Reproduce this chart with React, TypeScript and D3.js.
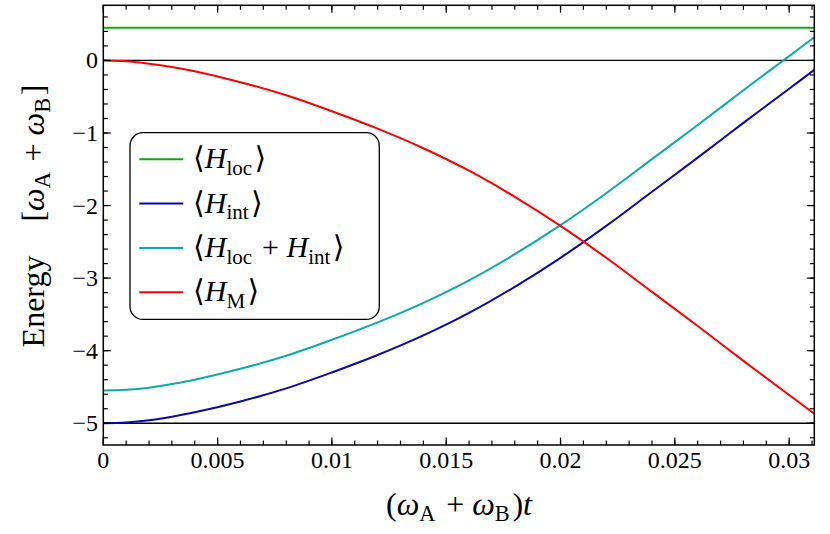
import * as d3 from "d3";

// sampled (omega_A + omega_B) t values
const T = [0, 0.001, 0.002, 0.003, 0.004, 0.006, 0.008, 0.01, 0.012, 0.014, 0.016, 0.018, 0.02, 0.022, 0.024, 0.026, 0.028, 0.03, 0.0311];

// energies
const H_LOC = [0.45, 0.45, 0.45, 0.45, 0.45, 0.45, 0.45, 0.45, 0.45, 0.45, 0.45, 0.45, 0.45, 0.45, 0.45, 0.45, 0.45, 0.45, 0.45];
const H_INT = [-5.0, -4.99, -4.96, -4.91, -4.85, -4.7, -4.52, -4.3, -4.06, -3.79, -3.48, -3.12, -2.72, -2.28, -1.81, -1.34, -0.86, -0.39, -0.13];
const H_SUM = [-4.55, -4.54, -4.51, -4.46, -4.4, -4.25, -4.07, -3.85, -3.61, -3.34, -3.03, -2.67, -2.27, -1.83, -1.36, -0.89, -0.41, 0.06, 0.32];
const H_M = [0, -0.011, -0.044, -0.09, -0.15, -0.3, -0.48, -0.7, -0.94, -1.21, -1.52, -1.88, -2.28, -2.72, -3.19, -3.66, -4.14, -4.61, -4.87];

const REF_LEVELS = [0, -5];

const X_TICKS = [0, 0.005, 0.01, 0.015, 0.02, 0.025, 0.03];
const X_TICK_LABELS = ["0", "0.005", "0.01", "0.015", "0.02", "0.025", "0.03"];
const Y_TICKS = [0, -1, -2, -3, -4, -5];
const Y_TICK_LABELS = ["0", "\u22121", "\u22122", "\u22123", "\u22124", "\u22125"];

const SERIES = [
  { key: "loc", values: H_LOC, color: "#0aae0a", sub: ["loc"] },
  { key: "int", values: H_INT, color: "#0a0aa0", sub: ["int"] },
  { key: "sum", values: H_SUM, color: "#0aaaaa", sub: ["loc", "int"] },
  { key: "M", values: H_M, color: "#ff0000", sub: ["M"] },
];

const W = 830;
const H = 534;
const M = { left: 103.3, right: 814.3, top: 5.3, bottom: 445 };
const FONT = "'Liberation Serif', 'DejaVu Serif', serif";

const x = d3.scaleLinear().domain([0, 0.0311]).range([M.left, M.right]);
const y = d3.scaleLinear().domain([-5.3, 0.76]).range([M.bottom, M.top]);

const xMinor = d3.range(0, 32).map((i) => i * 0.001).filter((v) => v <= 0.0311);
const yMinor = d3.range(-26, 4).map((i) => i * 0.2);

// H with roman subscript, in italic math style
function HTerm({ sub, size }: { sub: string; size: number }) {
  return (
    <>
      <tspan fontStyle="italic">H</tspan>
      <tspan fontSize={size * 0.7} dy={size * 0.22}>
        {sub}
      </tspan>
      <tspan dy={-size * 0.22}>{"\u200a"}</tspan>
    </>
  );
}

// omega with roman subscript
function Omega({ sub, size }: { sub: string; size: number }) {
  return (
    <>
      <tspan fontStyle="italic">ω</tspan>
      <tspan fontSize={size * 0.7} dy={size * 0.2}>
        {sub}
      </tspan>
      <tspan dy={-size * 0.2}>{"\u200a"}</tspan>
    </>
  );
}

export default function App() {
  const line = d3
    .line<number>()
    .x((_, i) => x(T[i]))
    .y((d) => y(d))
    .curve(d3.curveCatmullRom.alpha(0.5));

  const legendX = 130;
  const legendY = 132.7;
  const rowH = 44.3;
  const legSize = 30;
  const axSize = 32;

  return (
    <div style={{ position: "absolute", left: 0, top: 0 }}>
      <svg width={W} height={H} style={{ display: "block", background: "#fff" }} fontFamily={FONT}>
        <defs>
          <clipPath id="plot">
            <rect x={M.left} y={M.top} width={M.right - M.left} height={M.bottom - M.top} />
          </clipPath>
        </defs>

        {/* reference levels */}
        {REF_LEVELS.map((v) => (
          <line key={v} x1={M.left} x2={M.right} y1={y(v)} y2={y(v)} stroke="#000" strokeWidth={1.3} />
        ))}

        <g clipPath="url(#plot)">
          {SERIES.map((s) => (
            <path key={s.key} d={line(s.values) ?? ""} fill="none" stroke={s.color} strokeWidth={2} />
          ))}
        </g>

        {/* ticks, inward on all four sides */}
        <g stroke="#000" strokeWidth={1.2}>
          {xMinor.map((v, i) => (
            <g key={"xm" + i}>
              <line x1={x(v)} x2={x(v)} y1={M.bottom} y2={M.bottom - 4.5} />
              <line x1={x(v)} x2={x(v)} y1={M.top} y2={M.top + 4.5} />
            </g>
          ))}
          {X_TICKS.map((v, i) => (
            <g key={"xM" + i}>
              <line x1={x(v)} x2={x(v)} y1={M.bottom} y2={M.bottom - 7.5} />
              <line x1={x(v)} x2={x(v)} y1={M.top} y2={M.top + 7.5} />
            </g>
          ))}
          {yMinor.map((v, i) => (
            <g key={"ym" + i}>
              <line x1={M.left} x2={M.left + 4.5} y1={y(v)} y2={y(v)} />
              <line x1={M.right} x2={M.right - 4.5} y1={y(v)} y2={y(v)} />
            </g>
          ))}
          {Y_TICKS.map((v, i) => (
            <g key={"yM" + i}>
              <line x1={M.left} x2={M.left + 7.5} y1={y(v)} y2={y(v)} />
              <line x1={M.right} x2={M.right - 7.5} y1={y(v)} y2={y(v)} />
            </g>
          ))}
        </g>

        <rect
          x={M.left}
          y={M.top}
          width={M.right - M.left}
          height={M.bottom - M.top}
          fill="none"
          stroke="#000"
          strokeWidth={1.5}
        />

        {/* tick labels */}
        {X_TICKS.map((v, i) => (
          <text key={"xl" + i} x={x(v)} y={468} fontSize={24} textAnchor="middle">
            {X_TICK_LABELS[i]}
          </text>
        ))}
        {Y_TICKS.map((v, i) => (
          <text key={"yl" + i} x={98} y={y(v) + 8} fontSize={24} textAnchor="end">
            {Y_TICK_LABELS[i]}
          </text>
        ))}

        {/* axis titles */}
        <text x={459} y={515} fontSize={axSize} textAnchor="middle">
          <tspan>(</tspan>
          <Omega sub="A" size={axSize} />
          <tspan> + </tspan>
          <Omega sub="B" size={axSize} />
          <tspan>)</tspan>
          <tspan fontStyle="italic">t</tspan>
        </text>
        <text transform="translate(44,216) rotate(-90)" fontSize={axSize} textAnchor="middle">
          <tspan>Energy</tspan>
          <tspan dx={34}>[</tspan>
          <Omega sub="A" size={axSize} />
          <tspan> + </tspan>
          <Omega sub="B" size={axSize} />
          <tspan>]</tspan>
        </text>

        {/* legend */}
        <rect
          x={legendX}
          y={legendY}
          width={249.3}
          height={186.7}
          rx={13}
          fill="#fff"
          stroke="#000"
          strokeWidth={1.3}
        />
        {SERIES.map((s, i) => {
          const cy = legendY + 26.6 + i * rowH;
          return (
            <g key={"leg" + s.key}>
              <line x1={139.3} x2={183.3} y1={cy} y2={cy} stroke={s.color} strokeWidth={2} />
              <text x={193} y={cy + 9} fontSize={legSize}>
                <tspan>{"\u27e8"}</tspan>
                {s.sub.map((sb, j) => (
                  <tspan key={j}>
                    {j > 0 ? <tspan> + </tspan> : null}
                    <HTerm sub={sb} size={legSize} />
                  </tspan>
                ))}
                <tspan>{"\u27e9"}</tspan>
              </text>
            </g>
          );
        })}
      </svg>
    </div>
  );
}
